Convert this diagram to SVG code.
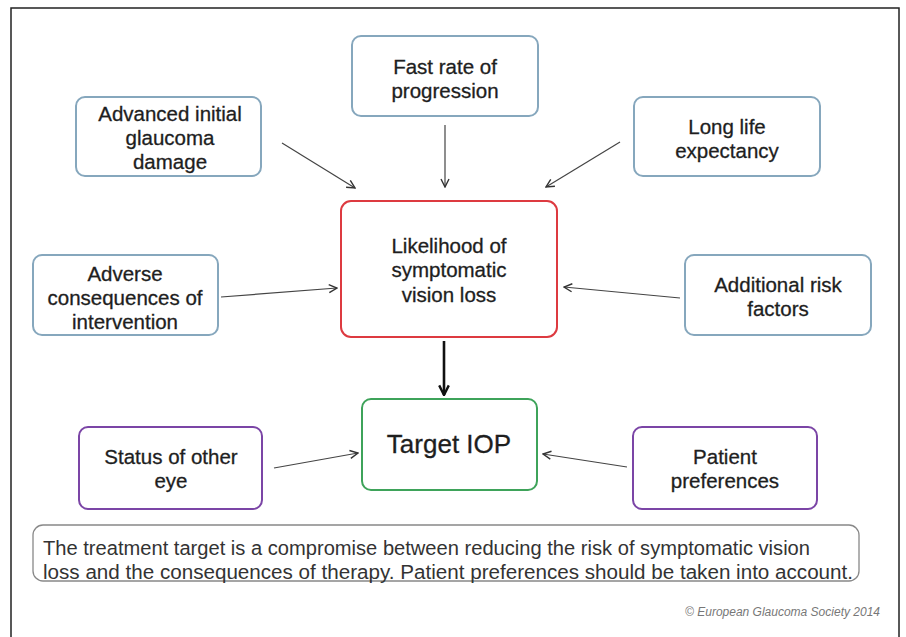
<svg xmlns="http://www.w3.org/2000/svg" width="906" height="637" viewBox="0 0 906 637">
<style>
.box{fill:#fff;stroke-width:2}
.blue{stroke:#86a7bd}
.red{stroke:#dd3a40}
.green{stroke:#3ea35a}
.purple{stroke:#7b45a6}
.t{font-family:"Liberation Sans",Arial,sans-serif;font-size:20.5px;fill:#1e1e1e;stroke:#1e1e1e;stroke-width:0.3;text-anchor:middle}
.note{font-family:"Liberation Sans",Arial,sans-serif;font-size:20px;fill:#333}
.conn line{stroke:#444;stroke-width:1.2}
</style>
<defs>
<marker id="ah" viewBox="0 0 10 10" refX="9" refY="5" markerWidth="10" markerHeight="10" markerUnits="userSpaceOnUse" orient="auto">
<path d="M1,1 L9,5 L1,9" fill="none" stroke="#333" stroke-width="1.4"/>
</marker>
<marker id="ahb" viewBox="0 0 10 10" refX="9" refY="5" markerWidth="12" markerHeight="12" markerUnits="userSpaceOnUse" orient="auto">
<path d="M1,1 L9,5 L1,9" fill="none" stroke="#111" stroke-width="2"/>
</marker>
</defs>
<rect x="0" y="0" width="906" height="637" fill="#fff"/>
<rect x="11" y="8" width="888" height="640" fill="#fff" stroke="#222" stroke-width="1.5"/>

<g class="conn">
<line x1="282" y1="143" x2="355" y2="188" marker-end="url(#ah)"/>
<line x1="445" y1="125" x2="445" y2="187" marker-end="url(#ah)"/>
<line x1="620" y1="142" x2="546" y2="187" marker-end="url(#ah)"/>
<line x1="221" y1="297" x2="337" y2="288" marker-end="url(#ah)"/>
<line x1="680" y1="298" x2="564" y2="287" marker-end="url(#ah)"/>
<line x1="444" y1="341" x2="444" y2="395" style="stroke:#111;stroke-width:2.6" marker-end="url(#ahb)"/>
<line x1="274" y1="468" x2="358" y2="453" marker-end="url(#ah)"/>
<line x1="627" y1="467" x2="543" y2="454" marker-end="url(#ah)"/>
</g>

<g id="fast">
<rect class="box blue" x="352" y="36" width="186" height="80" rx="9"/>
<text class="t" x="445" y="74">Fast rate of</text>
<text class="t" x="445" y="98">progression</text>
</g>
<g id="advanced">
<rect class="box blue" x="76" y="97" width="185" height="79" rx="9"/>
<text class="t" x="170" y="121">Advanced initial</text>
<text class="t" x="170" y="145">glaucoma</text>
<text class="t" x="170" y="169">damage</text>
</g>
<g id="longlife">
<rect class="box blue" x="634" y="97" width="186" height="79" rx="9"/>
<text class="t" x="727" y="134">Long life</text>
<text class="t" x="727" y="158">expectancy</text>
</g>
<g id="likelihood">
<rect class="box red" x="341" y="201" width="216" height="136" rx="10"/>
<text class="t" x="449" y="253">Likelihood of</text>
<text class="t" x="449" y="277">symptomatic</text>
<text class="t" x="449" y="302">vision loss</text>
</g>
<g id="adverse">
<rect class="box blue" x="33" y="255" width="185" height="80" rx="9"/>
<text class="t" x="125" y="281">Adverse</text>
<text class="t" x="125" y="305">consequences of</text>
<text class="t" x="125" y="329">intervention</text>
</g>
<g id="additional">
<rect class="box blue" x="685" y="255" width="186" height="80" rx="9"/>
<text class="t" x="778" y="292">Additional risk</text>
<text class="t" x="778" y="316">factors</text>
</g>
<g id="target">
<rect class="box green" x="362" y="399" width="175" height="91" rx="9"/>
<text class="t" x="449" y="453" style="font-size:26px">Target IOP</text>
</g>
<g id="status">
<rect class="box purple" x="79" y="427" width="183" height="82" rx="9"/>
<text class="t" x="171" y="464">Status of other</text>
<text class="t" x="171" y="488">eye</text>
</g>
<g id="patient">
<rect class="box purple" x="633" y="427" width="184" height="82" rx="9"/>
<text class="t" x="725" y="464">Patient</text>
<text class="t" x="725" y="488">preferences</text>
</g>
<g id="note">
<rect x="33" y="525" width="826" height="56" rx="10" fill="#fff" stroke="#888" stroke-width="1.3"/>
<text class="note" x="43" y="555" textLength="767" lengthAdjust="spacingAndGlyphs">The treatment target is a compromise between reducing the risk of symptomatic vision</text>
<text class="note" x="43" y="579" textLength="810" lengthAdjust="spacingAndGlyphs">loss and the consequences of therapy. Patient preferences should be taken into account.</text>
</g>
<text x="880" y="616" text-anchor="end" font-family="'Liberation Sans',Arial,sans-serif" font-style="italic" font-size="12" fill="#777">© European Glaucoma Society 2014</text>
</svg>
